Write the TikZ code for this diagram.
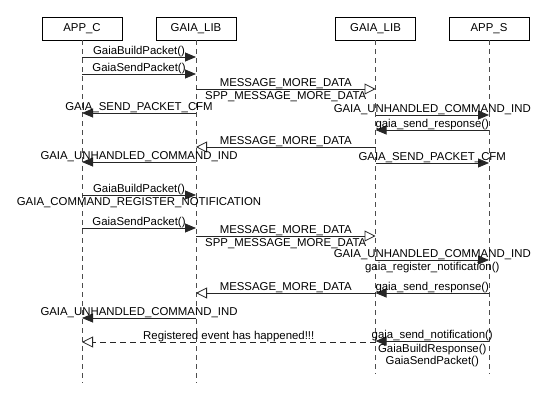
\documentclass[tikz,border=0pt]{standalone}
\usepackage{fontspec}
\setmainfont{Liberation Sans}
\usetikzlibrary{arrows.meta,calc}

\begin{document}
\begin{tikzpicture}[x=1pt,y=-1pt,
    font=\fontsize{11.4}{13}\selectfont,
    obj/.style={draw, line width=0.8pt, minimum width=80pt, minimum height=23pt, inner sep=0pt},
    life/.style={line width=0.8pt, black!70, dash pattern=on 5pt off 4pt},
    call/.style={line width=0.8pt, black!85, -{Triangle[length=11pt,width=9pt]}},
    sig/.style={line width=0.8pt, black!85, -{Triangle[open,length=11pt,width=11pt]}},
    lbl/.style={anchor=base, inner sep=0pt}]

    \useasboundingbox (0,0) rectangle (554,415);

    % objects
    \node[obj] (appc) at (82,28.5) {APP\_C};
    \node[obj] (liba) at (196,28.5) {GAIA\_LIB};
    \node[obj] (libb) at (375.5,28.5) {GAIA\_LIB};
    \node[obj] (apps) at (489,28.5) {APP\_S};

    % lifeline ends
    \coordinate (appcEnd) at (82,383);
    \coordinate (libaEnd) at (196,383);
    \coordinate (libbEnd) at (375.5,374);
    \coordinate (appsEnd) at (489,374);

    % label centres
    \coordinate (ab) at ($(appc)!0.5!(liba)$);
    \coordinate (bc) at ($(liba)!0.5!(libb)$);
    \coordinate (cd) at ($(libb)!0.5!(apps)$);
    \coordinate (ac) at ($(appc)!0.5!(libb)$);

    % lifelines
    \draw[life] (appc) -- (appcEnd);
    \draw[life] (liba) -- (libaEnd);
    \draw[life] (libb) -- (libbEnd);
    \draw[life] (apps) -- (appsEnd);

    % messages
    \draw[call] (appc |- 0,57) -- (liba |- 0,57);
    \node[lbl] (t1) at (ab |- 0,54) {GaiaBuildPacket()};
    \draw[call] (appc |- 0,74) -- (liba |- 0,74);
    \node[lbl] (t2) at (ab |- 0,71) {GaiaSendPacket()};
    \draw[sig] (liba |- 0,89) -- (libb |- 0,89);
    \node[lbl] (t3) at (bc |- 0,86) {MESSAGE\_MORE\_DATA};
    \node[lbl] (t3b) at (bc |- 0,99) {SPP\_MESSAGE\_MORE\_DATA};
    \draw[call] (liba |- 0,113) -- (appc |- 0,113);
    \node[lbl] (t4) at (ab |- 0,110) {GAIA\_SEND\_PACKET\_CFM};
    \draw[call] (libb |- 0,115) -- (apps |- 0,115);
    \node[lbl] (t5) at (cd |- 0,112) {GAIA\_UNHANDLED\_COMMAND\_IND};
    \draw[call] (apps |- 0,130) -- (libb |- 0,130);
    \node[lbl] (t6) at (cd |- 0,127) {gaia\_send\_response()};
    \draw[sig] (libb |- 0,147) -- (liba |- 0,147);
    \node[lbl] (t7) at (bc |- 0,144) {MESSAGE\_MORE\_DATA};
    \draw[call] (liba |- 0,162) -- (appc |- 0,162);
    \node[lbl] (t8) at (ab |- 0,159) {GAIA\_UNHANDLED\_COMMAND\_IND};
    \draw[call] (libb |- 0,163) -- (apps |- 0,163);
    \node[lbl] (t9) at (cd |- 0,160) {GAIA\_SEND\_PACKET\_CFM};

    \draw[call] (appc |- 0,195) -- (liba |- 0,195);
    \node[lbl] (t10) at (ab |- 0,192) {GaiaBuildPacket()};
    \node[lbl] (t10b) at (ab |- 0,205) {GAIA\_COMMAND\_REGISTER\_NOTIFICATION};
    \draw[call] (appc |- 0,228) -- (liba |- 0,228);
    \node[lbl] (t11) at (ab |- 0,225) {GaiaSendPacket()};
    \draw[sig] (liba |- 0,236) -- (libb |- 0,236);
    \node[lbl] (t12) at (bc |- 0,233) {MESSAGE\_MORE\_DATA};
    \node[lbl] (t12b) at (bc |- 0,246) {SPP\_MESSAGE\_MORE\_DATA};
    \draw[call] (libb |- 0,260) -- (apps |- 0,260);
    \node[lbl] (t13) at (cd |- 0,257) {GAIA\_UNHANDLED\_COMMAND\_IND};
    \node[lbl] (t13b) at (cd |- 0,270) {gaia\_register\_notification()};
    \draw[call] (apps |- 0,293) -- (libb |- 0,293);
    \node[lbl] (t14) at (cd |- 0,290) {gaia\_send\_response()};
    \draw[sig] (libb |- 0,293) -- (liba |- 0,293);
    \node[lbl] (t15) at (bc |- 0,290) {MESSAGE\_MORE\_DATA};
    \draw[call] (liba |- 0,318) -- (appc |- 0,318);
    \node[lbl] (t16) at (ab |- 0,315) {GAIA\_UNHANDLED\_COMMAND\_IND};
    \draw[sig, dash pattern=on 6pt off 4pt] (libb |- 0,342) -- (appc |- 0,342);
    \node[lbl] (t17) at (ac |- 0,339) {Registered event has happened!!!};
    \draw[call] (apps |- 0,341) -- (libb |- 0,341);
    \node[lbl] (t18) at (cd |- 0,338) {gaia\_send\_notification()};
    \node[lbl] (t18b) at (cd |- 0,352) {GaiaBuildResponse()};
    \node[lbl] (t18c) at (cd |- 0,364) {GaiaSendPacket()};

\end{tikzpicture}
\end{document}
